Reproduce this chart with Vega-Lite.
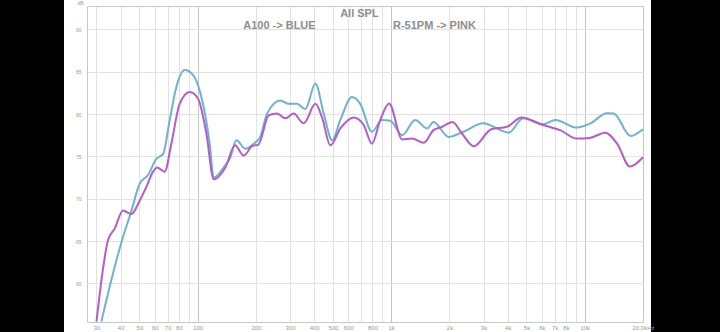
{
  "$schema": "https://vega.github.io/schema/vega-lite/v6.json",
  "width": 587,
  "height": 332,
  "autosize": {"type": "none"},
  "padding": {"left": 64, "right": 69, "top": 0, "bottom": 0},
  "background": "#000000",
  "view": {"fill": "#ffffff", "stroke": null},
  "config": {"font": "Liberation Sans"},
  "layer": [
    {
      "data": {"values": [
        {"series": "A100", "freq": 31.8, "spl": 55.5},
        {"series": "A100", "freq": 35.8, "spl": 60.4},
        {"series": "A100", "freq": 40.4, "spl": 64.9},
        {"series": "A100", "freq": 45.5, "spl": 68.6},
        {"series": "A100", "freq": 50.2, "spl": 71.8},
        {"series": "A100", "freq": 55.4, "spl": 72.8},
        {"series": "A100", "freq": 61.1, "spl": 74.7},
        {"series": "A100", "freq": 66.3, "spl": 75.3},
        {"series": "A100", "freq": 71.7, "spl": 79.3},
        {"series": "A100", "freq": 77.6, "spl": 83.2},
        {"series": "A100", "freq": 85.7, "spl": 85.2},
        {"series": "A100", "freq": 94.7, "spl": 84.6},
        {"series": "A100", "freq": 103.5, "spl": 82.4},
        {"series": "A100", "freq": 115.4, "spl": 76.5},
        {"series": "A100", "freq": 121, "spl": 72.5},
        {"series": "A100", "freq": 136.3, "spl": 73.7},
        {"series": "A100", "freq": 147.6, "spl": 74.9},
        {"series": "A100", "freq": 158.4, "spl": 76.9},
        {"series": "A100", "freq": 176.4, "spl": 75.9},
        {"series": "A100", "freq": 194.9, "spl": 76.5},
        {"series": "A100", "freq": 210.6, "spl": 77.3},
        {"series": "A100", "freq": 228.2, "spl": 80.05},
        {"series": "A100", "freq": 267.6, "spl": 81.6},
        {"series": "A100", "freq": 295.3, "spl": 81.2},
        {"series": "A100", "freq": 326, "spl": 81.2},
        {"series": "A100", "freq": 360, "spl": 80.6},
        {"series": "A100", "freq": 406, "spl": 83.6},
        {"series": "A100", "freq": 448, "spl": 80.05},
        {"series": "A100", "freq": 495, "spl": 76.9},
        {"series": "A100", "freq": 546, "spl": 79.3},
        {"series": "A100", "freq": 627, "spl": 82.0},
        {"series": "A100", "freq": 692, "spl": 81.2},
        {"series": "A100", "freq": 795, "spl": 77.9},
        {"series": "A100", "freq": 896, "spl": 79.3},
        {"series": "A100", "freq": 990, "spl": 79.2},
        {"series": "A100", "freq": 1140, "spl": 77.5},
        {"series": "A100", "freq": 1330, "spl": 79.3},
        {"series": "A100", "freq": 1533, "spl": 78.3},
        {"series": "A100", "freq": 1654, "spl": 79.05},
        {"series": "A100", "freq": 1982, "spl": 77.3},
        {"series": "A100", "freq": 2364, "spl": 77.9},
        {"series": "A100", "freq": 2987, "spl": 78.9},
        {"series": "A100", "freq": 4047, "spl": 77.8},
        {"series": "A100", "freq": 4800, "spl": 79.5},
        {"series": "A100", "freq": 6080, "spl": 78.8},
        {"series": "A100", "freq": 7060, "spl": 79.3},
        {"series": "A100", "freq": 9100, "spl": 78.4},
        {"series": "A100", "freq": 10700, "spl": 78.9},
        {"series": "A100", "freq": 13000, "spl": 80.1},
        {"series": "A100", "freq": 14120, "spl": 80.05},
        {"series": "A100", "freq": 17240, "spl": 77.4},
        {"series": "A100", "freq": 20000, "spl": 78.2},
        {"series": "R-51PM", "freq": 30.0, "spl": 55.5},
        {"series": "R-51PM", "freq": 32.5, "spl": 61.9},
        {"series": "R-51PM", "freq": 34.4, "spl": 65.1},
        {"series": "R-51PM", "freq": 37.3, "spl": 66.5},
        {"series": "R-51PM", "freq": 41.1, "spl": 68.6},
        {"series": "R-51PM", "freq": 45.5, "spl": 68.2},
        {"series": "R-51PM", "freq": 50.2, "spl": 69.8},
        {"series": "R-51PM", "freq": 54.3, "spl": 71.4},
        {"series": "R-51PM", "freq": 58.8, "spl": 73.2},
        {"series": "R-51PM", "freq": 61.7, "spl": 73.7},
        {"series": "R-51PM", "freq": 67.5, "spl": 73.2},
        {"series": "R-51PM", "freq": 73.1, "spl": 76.5},
        {"series": "R-51PM", "freq": 80.7, "spl": 81.2},
        {"series": "R-51PM", "freq": 91.0, "spl": 82.6},
        {"series": "R-51PM", "freq": 100.5, "spl": 81.8},
        {"series": "R-51PM", "freq": 110.9, "spl": 77.7},
        {"series": "R-51PM", "freq": 121, "spl": 72.3},
        {"series": "R-51PM", "freq": 139, "spl": 73.7},
        {"series": "R-51PM", "freq": 156, "spl": 76.3},
        {"series": "R-51PM", "freq": 172.8, "spl": 75.1},
        {"series": "R-51PM", "freq": 191, "spl": 76.2},
        {"series": "R-51PM", "freq": 206, "spl": 76.4},
        {"series": "R-51PM", "freq": 233, "spl": 79.85},
        {"series": "R-51PM", "freq": 257, "spl": 80.05},
        {"series": "R-51PM", "freq": 284, "spl": 79.5},
        {"series": "R-51PM", "freq": 313, "spl": 80.05},
        {"series": "R-51PM", "freq": 353, "spl": 78.9},
        {"series": "R-51PM", "freq": 406, "spl": 81.2},
        {"series": "R-51PM", "freq": 439, "spl": 79.6},
        {"series": "R-51PM", "freq": 485, "spl": 76.3},
        {"series": "R-51PM", "freq": 546, "spl": 78.3},
        {"series": "R-51PM", "freq": 640, "spl": 79.6},
        {"series": "R-51PM", "freq": 721, "spl": 78.7},
        {"series": "R-51PM", "freq": 795, "spl": 76.5},
        {"series": "R-51PM", "freq": 878, "spl": 79.3},
        {"series": "R-51PM", "freq": 975, "spl": 81.25},
        {"series": "R-51PM", "freq": 1140, "spl": 77.0},
        {"series": "R-51PM", "freq": 1283, "spl": 77.1},
        {"series": "R-51PM", "freq": 1470, "spl": 76.6},
        {"series": "R-51PM", "freq": 1654, "spl": 78.1},
        {"series": "R-51PM", "freq": 1836, "spl": 78.5},
        {"series": "R-51PM", "freq": 2073, "spl": 79.05},
        {"series": "R-51PM", "freq": 2319, "spl": 77.7},
        {"series": "R-51PM", "freq": 2674, "spl": 76.2},
        {"series": "R-51PM", "freq": 3283, "spl": 78.2},
        {"series": "R-51PM", "freq": 3970, "spl": 78.5},
        {"series": "R-51PM", "freq": 4700, "spl": 79.6},
        {"series": "R-51PM", "freq": 6080, "spl": 78.7},
        {"series": "R-51PM", "freq": 7470, "spl": 78.1},
        {"series": "R-51PM", "freq": 9100, "spl": 77.1},
        {"series": "R-51PM", "freq": 10700, "spl": 77.2},
        {"series": "R-51PM", "freq": 12740, "spl": 77.8},
        {"series": "R-51PM", "freq": 14700, "spl": 76.5},
        {"series": "R-51PM", "freq": 17100, "spl": 73.8},
        {"series": "R-51PM", "freq": 20000, "spl": 74.9}
      ]},
      "mark": {"type": "line", "interpolate": "monotone", "strokeWidth": 2},
      "encoding": {
        "x": {
          "field": "freq", "type": "quantitative",
          "scale": {"type": "log", "domain": [26.8, 20000], "range": [23, 579], "nice": false},
          "axis": {
            "orient": "bottom", "offset": -10,
            "values": [30, 40, 50, 60, 70, 80, 90, 100, 200, 300, 400, 500, 600, 700, 800, 900, 1000, 2000, 3000, 4000, 5000, 6000, 7000, 8000, 9000, 10000, 20000],
            "labelExpr": "datum.value == 20000 ? '20,0kHz' : (datum.value == 90 || datum.value == 700 || datum.value == 900 || datum.value == 9000) ? '' : datum.value >= 1000 ? (datum.value / 1000) + 'k' : '' + datum.value",
            "grid": false, "ticks": false, "domain": true, "domainColor": "#c8c8c8",
            "labelFontSize": 6, "labelColor": "#999999", "labelPadding": 2,
            "labelOverlap": false, "labelFlush": false, "title": null
          }
        },
        "y": {
          "field": "spl", "type": "quantitative",
          "scale": {"domain": [55.45, 92.75], "range": [322, 6], "nice": false, "zero": false},
          "axis": {
            "orient": "left", "offset": -23,
            "values": [60, 65, 70, 75, 80, 85, 90],
            "grid": true, "gridColor": "#e2e2e2", "ticks": false,
            "domain": true, "domainColor": "#c8c8c8",
            "labelFontSize": 5, "labelColor": "#999999", "labelPadding": 6, "labelOverlap": false,
            "title": "dB", "titleAngle": 0, "titleX": -7, "titleY": 0,
            "titleBaseline": "top", "titleAlign": "center",
            "titleFontSize": 5, "titleFontWeight": "normal", "titleColor": "#999999"
          }
        },
        "color": {
          "field": "series", "type": "nominal",
          "scale": {"domain": ["A100", "R-51PM"], "range": ["#6db3cf", "#b45cc8"]},
          "legend": null
        }
      }
    },
    {
      "data": {"values": [
        {"label": "All SPL", "freq": 685, "spl": 91.86},
        {"label": "A100 -> BLUE", "freq": 264.5, "spl": 90.36},
        {"label": "R-51PM -> PINK", "freq": 1672, "spl": 90.36}
      ]},
      "mark": {"type": "text", "fontSize": 11, "fontWeight": "bold", "color": "#8d8d8d", "align": "center", "baseline": "middle"},
      "encoding": {
        "x": {
          "field": "freq", "type": "quantitative",
          "scale": {"type": "log", "domain": [26.8, 20000], "range": [23, 579], "nice": false},
          "axis": {
            "orient": "top", "offset": -6,
            "values": [30, 40, 50, 60, 70, 80, 90, 100, 200, 300, 400, 500, 600, 700, 800, 900, 1000, 2000, 3000, 4000, 5000, 6000, 7000, 8000, 9000, 10000, 20000],
            "labels": false, "ticks": false, "domain": true, "domainColor": "#c8c8c8",
            "grid": true,
            "gridColor": {"condition": {"test": "datum.value == 100 || datum.value == 1000 || datum.value == 10000 || datum.value == 20000", "value": "#c4c4c4"}, "value": "#e2e2e2"},
            "title": null
          }
        },
        "y": {
          "field": "spl", "type": "quantitative",
          "scale": {"domain": [55.45, 92.75], "range": [322, 6], "nice": false, "zero": false},
          "axis": null
        },
        "text": {"field": "label"}
      }
    }
  ],
  "resolve": {"axis": {"x": "independent", "y": "independent"}}
}
